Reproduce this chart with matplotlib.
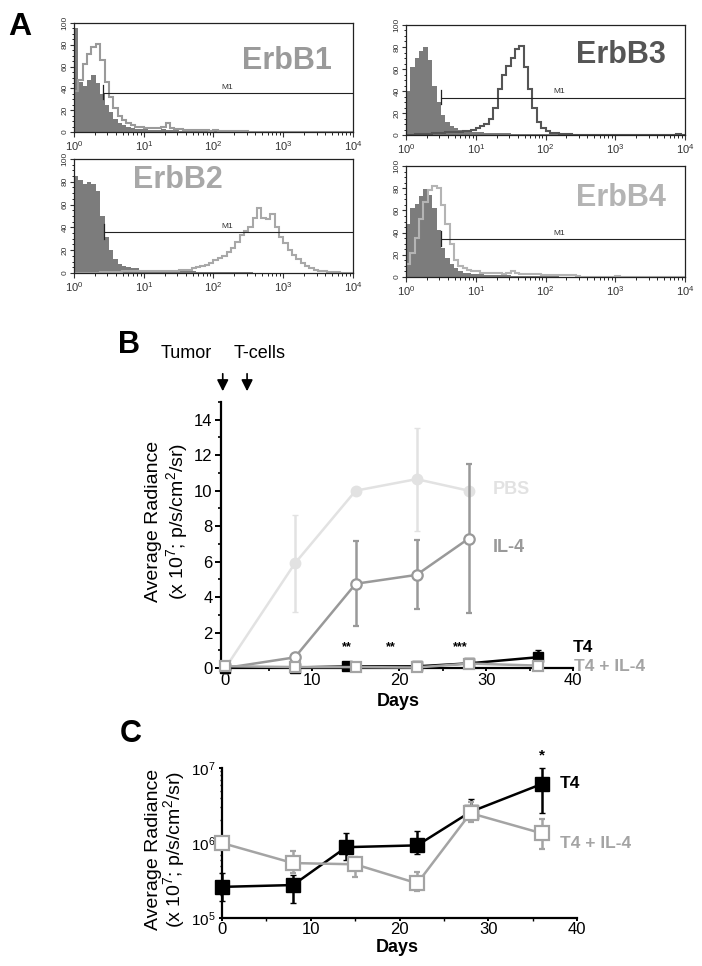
import matplotlib.pyplot as plt
import numpy as np
from matplotlib.ticker import MultipleLocator, LogLocator, NullFormatter

plt.rcParams['font.family'] = ['Liberation Sans', 'DejaVu Sans']
plt.rcParams['mathtext.fontset'] = 'custom'
plt.rcParams['mathtext.rm'] = 'Liberation Sans'
plt.rcParams['mathtext.it'] = 'Liberation Sans:italic'
plt.rcParams['mathtext.bf'] = 'Liberation Sans:bold'

# ---- panel A: flow histograms, 16 channels per decade, 10^0 .. 10^4
erbb1_iso = [95, 46, 42, 48, 52, 45, 35, 25, 18, 12, 8, 6, 5, 4, 3, 3,
             3, 2, 2, 2, 3, 2, 2, 2, 1, 1, 1, 1, 1, 1, 1, 1,
             1, 1, 1, 1, 1, 1, 0, 0, 0, 0, 0, 0, 0, 0, 0, 0,
             0, 0, 0, 0, 0, 0, 0, 0, 0, 0, 0, 0, 0, 0, 0, 0]
erbb1_ab = [38, 48, 62, 72, 78, 81, 66, 46, 32, 22, 15, 11, 8, 6, 5, 5,
            4, 4, 4, 4, 5, 8, 4, 3, 3, 2, 2, 2, 2, 2, 2, 1,
            2, 1, 1, 1, 1, 1, 1, 1, 0, 0, 0, 0, 0, 0, 0, 0,
            0, 0, 0, 0, 0, 0, 0, 0, 0, 0, 0, 0, 0, 0, 0, 0]
erbb3_iso = [40, 62, 70, 76, 80, 68, 45, 30, 18, 12, 8, 6, 5, 4, 4, 3,
             3, 3, 2, 2, 2, 2, 2, 2, 1, 1, 1, 1, 1, 1, 1, 1,
             1, 1, 1, 1, 1, 0, 0, 0, 0, 0, 0, 0, 0, 0, 0, 0,
             0, 0, 0, 0, 0, 0, 0, 0, 0, 0, 0, 0, 0, 0, 0, 0]
erbb3_ab = [0, 0, 1, 1, 1, 1, 2, 2, 2, 3, 3, 3, 3, 4, 4, 5,
            6, 8, 10, 15, 25, 42, 55, 63, 70, 78, 81, 62, 42, 25, 12, 6,
            4, 2, 2, 1, 1, 1, 0, 0, 0, 0, 0, 0, 0, 0, 0, 0,
            0, 0, 0, 0, 0, 0, 0, 0, 0, 0, 0, 0, 0, 0, 1, 0]
erbb2_iso = [85, 82, 78, 80, 78, 72, 50, 32, 20, 12, 8, 6, 5, 4, 4, 3,
             3, 3, 3, 2, 2, 2, 2, 2, 2, 2, 2, 2, 1, 1, 1, 1,
             1, 1, 1, 1, 1, 1, 1, 1, 1, 0, 0, 0, 0, 0, 0, 0,
             0, 0, 0, 0, 0, 0, 0, 0, 0, 0, 0, 0, 0, 0, 0, 0]
erbb2_ab = [0, 0, 0, 0, 0, 0, 1, 1, 1, 1, 1, 2, 2, 2, 2, 2,
            2, 2, 2, 2, 2, 2, 2, 2, 3, 3, 3, 4, 5, 6, 7, 9,
            11, 13, 15, 18, 22, 27, 33, 37, 40, 48, 57, 48, 47, 52, 40, 32,
            26, 20, 16, 12, 9, 6, 4, 3, 2, 2, 1, 1, 1, 0, 0, 0]
erbb4_iso = [48, 62, 66, 73, 79, 74, 62, 42, 26, 17, 12, 8, 5, 4, 4, 3,
             3, 3, 2, 2, 2, 2, 2, 2, 1, 1, 1, 1, 1, 1, 1, 1,
             1, 1, 1, 0, 0, 0, 0, 0, 0, 0, 0, 0, 0, 0, 0, 0,
             0, 0, 0, 0, 0, 0, 0, 0, 0, 0, 0, 0, 0, 0, 0, 0]
erbb4_ab = [12, 22, 35, 52, 68, 78, 82, 80, 65, 48, 30, 15, 10, 8, 6, 5,
            5, 4, 4, 4, 4, 4, 3, 4, 5, 4, 3, 3, 3, 3, 3, 2,
            2, 2, 2, 2, 2, 2, 2, 1, 0, 0, 0, 0, 0, 0, 0, 0,
            1, 0, 0, 0, 0, 0, 0, 0, 0, 0, 0, 0, 0, 0, 0, 0]
gate_start = {'ErbB1': 2.6, 'ErbB2': 2.7, 'ErbB3': 3.2, 'ErbB4': 3.2}
gate_level = {'ErbB1': 36, 'ErbB2': 36, 'ErbB3': 34, 'ErbB4': 34}

# ---- panel B / C: radiance over time
days = [0, 8, 15, 22, 28]
pbs = [0, 5.9, 10.0, 10.65, 10.0]
pbs_err = [0, 2.75, 0, 2.9, 0]
il4 = [0, 0.6, 4.75, 5.25, 7.3]
il4_err = [0, 0, 2.4, 1.95, 4.2]

t4_days = [0, 8, 14, 22, 28, 36]
t4 = [2.6e5, 2.75e5, 8.8e5, 9.3e5, 2.6e6, 6.1e6]
t4_low = [1.7e5, 1.6e5, 6.0e5, 7.1e5, 2.2e6, 2.5e6]
t4_high = [4.0e5, 3.7e5, 1.35e6, 1.45e6, 3.9e6, 1.0e7]
t4il4_days = [0, 8, 15, 22, 28, 36]
t4il4 = [1.0e6, 5.4e5, 5.2e5, 2.9e5, 2.5e6, 1.35e6]
t4il4_low = [9.0e5, 4.0e5, 3.5e5, 2.3e5, 1.9e6, 8.3e5]
t4il4_high = [1.1e6, 7.8e5, 6.5e5, 4.1e5, 3.5e6, 2.1e6]

star_days = [14, 19, 27]
star_text = ['**', '**', '***']

W, H = 702, 966
fig = plt.figure(figsize=(W / 100, H / 100), dpi=100)


def rect(l, t, r, b):
    return [l / W, 1 - b / H, (r - l) / W, (b - t) / H]


def fx(x):
    return x / W


def fy(y):
    return 1 - y / H


edges = np.logspace(0, 4, 65)
iso_col = '#7c7c7c'
hist_panels = [
    ('ErbB1', erbb1_iso, erbb1_ab, '#9a9a9a', (74, 23, 353, 132), (0.925, 0.65, 'right')),
    ('ErbB3', erbb3_iso, erbb3_ab, '#555555', (406, 25, 685, 135), (0.93, 0.73, 'right')),
    ('ErbB2', erbb2_iso, erbb2_ab, '#a8a8a8', (74, 159, 353, 273), (0.21, 0.82, 'left')),
    ('ErbB4', erbb4_iso, erbb4_ab, '#b4b4b4', (406, 166, 685, 277), (0.93, 0.71, 'right')),
]
for name, iso, ab, col, box, lab in hist_panels:
    ax = fig.add_axes(rect(*box))
    ax.stairs(iso, edges, fill=True, color=iso_col, lw=0)
    ax.stairs(ab, edges, color=col, lw=1.5)
    ax.set_xscale('log')
    ax.set_xlim(1, 1e4)
    ax.set_ylim(0, 100)
    g0 = gate_start[name]
    gy = gate_level[name]
    ax.plot([g0, 1e4], [gy, gy], color='#222222', lw=0.8)
    ax.plot([g0, g0], [gy - 6, gy + 7], color='#222222', lw=0.9)
    ax.text(160, gy + 2, 'M1', fontsize=6, ha='center', va='bottom', color='#333333')
    ax.text(lab[0], lab[1], name, transform=ax.transAxes, fontsize=22,
            fontweight='bold', color=col, ha=lab[2], va='center')
    ax.set_yticks([0, 20, 40, 60, 80, 100])
    ax.yaxis.set_minor_locator(MultipleLocator(5))
    ax.set_xticks([1, 10, 100, 1000, 10000])
    ax.set_xticklabels(['$10^0$', '$10^1$', '$10^2$', '$10^3$', '$10^4$'])
    ax.xaxis.set_minor_locator(LogLocator(base=10, subs=np.arange(2, 10)))
    ax.xaxis.set_minor_formatter(NullFormatter())
    ax.tick_params(axis='x', labelsize=8, length=3.5, width=0.8, pad=2, colors='#333333')
    ax.tick_params(axis='x', which='minor', length=2, width=0.6)
    ax.tick_params(axis='y', labelsize=6, length=3, width=0.8, pad=1, colors='#333333')
    ax.tick_params(axis='y', which='minor', length=1.8, width=0.6)
    for lbl in ax.get_yticklabels():
        lbl.set_rotation(90)
        lbl.set_va('center')
    for s in ax.spines.values():
        s.set_linewidth(0.9)
        s.set_color('#222222')

fig.text(fx(8), fy(35), 'A', fontsize=23, fontweight='bold', va='baseline')

# ---- panel B
axb = fig.add_axes(rect(221, 402, 573, 668))
pbs_col = '#e2e2e2'
il4_col = '#999999'
t4il4_col = '#a4a4a4'
axb.errorbar(days, pbs, yerr=pbs_err, color=pbs_col, lw=1.8, marker='o', ms=7.5,
             mfc=pbs_col, mec=pbs_col, capsize=2, elinewidth=1.8, clip_on=False, zorder=2)
axb.errorbar(days, il4, yerr=il4_err, color=il4_col, lw=1.8, marker='o', ms=7.5,
             mfc='white', mec=il4_col, mew=1.6, capsize=2, elinewidth=1.8, clip_on=False, zorder=3)
axb.errorbar(t4_days, np.array(t4) / 1e7,
             yerr=[(np.array(t4) - np.array(t4_low)) / 1e7, (np.array(t4_high) - np.array(t4)) / 1e7],
             color='black', lw=1.8, marker='s', ms=7.5, capsize=2, elinewidth=1.8,
             clip_on=False, zorder=4)
axb.errorbar(t4il4_days, np.array(t4il4) / 1e7, color=t4il4_col, lw=1.8, marker='s', ms=7.5,
             mfc='white', mec=t4il4_col, mew=1.6, clip_on=False, zorder=5)
for d, s in zip(star_days, star_text):
    axb.text(d, 1.2, s, ha='center', va='center', fontsize=9, fontweight='bold')
axb.text(30.8, 10.05, 'PBS', color=pbs_col, fontsize=13, fontweight='bold', va='center')
axb.text(30.8, 6.8, 'IL-4', color=il4_col, fontsize=13, fontweight='bold', va='center')
axb.text(40.0, 1.13, 'T4', color='black', fontsize=12.5, fontweight='bold', va='center')
axb.text(40.1, 0.06, 'T4 + IL-4', color=t4il4_col, fontsize=12.5, fontweight='bold', va='center')
for xa in [-0.3, 2.5]:
    axb.annotate('', xy=(xa, 15.45), xytext=(xa, 16.75), annotation_clip=False,
                 arrowprops=dict(arrowstyle='-|>', color='black', lw=1.2, mutation_scale=17))
axb.set_xlim(-0.5, 40)
axb.set_ylim(0, 15)
axb.set_yticks(range(0, 15, 2))
axb.yaxis.set_minor_locator(MultipleLocator(1))
axb.set_xticks([0, 10, 20, 30, 40])
axb.xaxis.set_minor_locator(MultipleLocator(5))

fig.text(fx(186), fy(353), 'Tumor', fontsize=13, ha='center', va='center')
fig.text(fx(260), fy(353), 'T-cells', fontsize=13, ha='center', va='center')
fig.text(fx(118), fy(353), 'B', fontsize=22, fontweight='bold', va='baseline')
fig.text(fx(153), fy(521), 'Average Radiance', fontsize=14, rotation=90, ha='center', va='center')
fig.text(fx(177), fy(521), '(x 10$^7$; p/s/cm$^2$/sr)', fontsize=14, rotation=90,
         ha='center', va='center')
fig.text(fx(398), fy(701), 'Days', fontsize=13, fontweight='bold', ha='center', va='center')

# ---- panel C
axc = fig.add_axes(rect(222, 768, 577, 918))
axc.errorbar(t4_days, t4, yerr=[np.array(t4) - np.array(t4_low), np.array(t4_high) - np.array(t4)],
             color='black', lw=1.8, marker='s', ms=9.5, capsize=2.5, elinewidth=1.8,
             clip_on=False, zorder=3)
axc.errorbar(t4il4_days, t4il4,
             yerr=[np.array(t4il4) - np.array(t4il4_low), np.array(t4il4_high) - np.array(t4il4)],
             color=t4il4_col, lw=1.8, marker='s', ms=9.5, mfc='white', mec=t4il4_col, mew=1.6,
             capsize=2.5, elinewidth=1.8, clip_on=False, zorder=4)
axc.set_yscale('log')
axc.set_ylim(1e5, 1e7)
axc.set_xlim(0, 40)
axc.set_xticks([0, 10, 20, 30, 40])
axc.xaxis.set_minor_locator(MultipleLocator(5))
axc.yaxis.set_minor_locator(LogLocator(base=10, subs=np.arange(2, 10)))
axc.yaxis.set_minor_formatter(NullFormatter())
axc.text(36, 1.45e7, '*', ha='center', va='center', fontsize=11, fontweight='bold')
axc.text(38.1, 6.3e6, 'T4', color='black', fontsize=12.5, fontweight='bold', va='center')
axc.text(38.1, 1.0e6, 'T4 + IL-4', color=t4il4_col, fontsize=12.5, fontweight='bold', va='center')

fig.text(fx(120), fy(742), 'C', fontsize=22, fontweight='bold', va='baseline')
fig.text(fx(153), fy(849), 'Average Radiance', fontsize=14, rotation=90, ha='center', va='center')
fig.text(fx(174), fy(849), '(x 10$^7$; p/s/cm$^2$/sr)', fontsize=14, rotation=90,
         ha='center', va='center')
fig.text(fx(397), fy(948), 'Days', fontsize=13, fontweight='bold', ha='center', va='center')

for ax in [axb, axc]:
    ax.spines['top'].set_visible(False)
    ax.spines['right'].set_visible(False)
    ax.spines['left'].set_linewidth(1.6)
    ax.spines['bottom'].set_linewidth(1.6)
axb.tick_params(axis='y', labelsize=12, length=4, width=1.4, pad=2)
axb.tick_params(axis='x', labelsize=12, length=2.5, width=1.4, pad=1)
axb.tick_params(which='minor', length=2.5, width=1.2)
axc.tick_params(axis='y', labelsize=11, length=2.5, width=1.4, pad=2)
axc.tick_params(axis='x', labelsize=12, length=2, width=1.4, pad=1)
axc.tick_params(which='minor', length=1.8, width=1.0)

fig.savefig('out.png', dpi=100)
